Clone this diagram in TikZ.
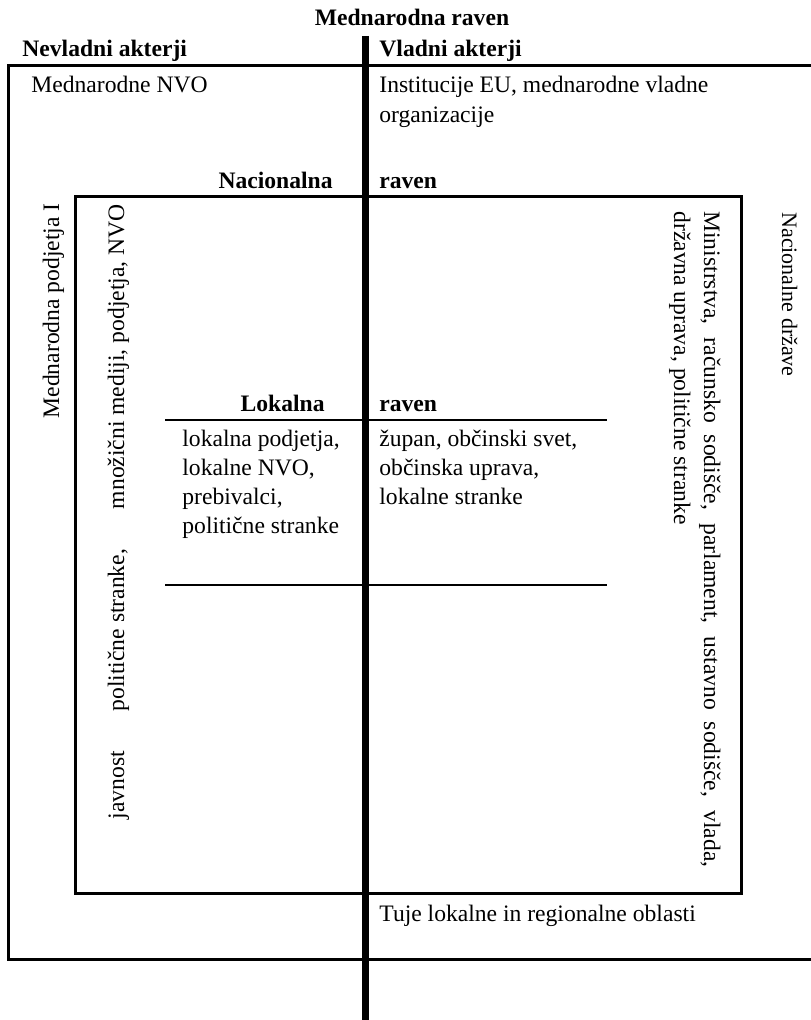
\documentclass[tikz,border=0pt]{standalone}
\usepackage{fontspec}
\setmainfont{Liberation Serif}
\begin{document}
\begin{tikzpicture}[x=0.5pt,y=-0.5pt,
  txt/.style={inner sep=0pt, font=\fontsize{11.8}{14.4}\selectfont},
  hd/.style={inner sep=0pt, font=\fontsize{11.8}{14.4}\selectfont\bfseries},
  frame/.style={line width=1.5pt},
  rule/.style={line width=1.1pt},
  axis/.style={line width=3.5pt}]
\useasboundingbox (0,0) rectangle (810,1020);

% dividing axis between non-governmental and governmental actors
\coordinate (axtop) at (365,36);
\coordinate (axbot) at (365,1020);
\draw[axis] (axtop) -- (axbot);

% international level
\node[hd, anchor=base] (mr) at (412,26) {Mednarodna raven};
\node[hd, anchor=base west] (nev) at (22,57) {Nevladni akterji};
\node[hd, anchor=base west] (vla) at (379,57) {Vladni akterji};
\coordinate (o1) at (815,66);
\coordinate (o2) at (8,66);
\coordinate (o3) at (8,959);
\coordinate (o4) at (815,959);
\draw[frame] (o1) -- (o2) -- (o3) -- (o4);
\node[txt, anchor=base west] (mnvo) at (31,93) {Mednarodne NVO};
\node[txt, anchor=base west] (ieu1) at (379,93) {Institucije EU, mednarodne vladne};
\node[txt, anchor=base west] (ieu2) at (379,123) {organizacije};
\node[txt, anchor=base west] (tuje) at (379,921) {Tuje lokalne in regionalne oblasti};
\node[txt, rotate=90, anchor=base east] (mpod) at (59,203) {Mednarodna podjetja I};
\node[txt, rotate=-90, anchor=base west, font=\fontsize{11}{13.2}\selectfont] (nacd) at (782,212) {Nacionalne države};

% national level
\node[hd, anchor=base east] (nac) at (333,189) {Nacionalna};
\node[hd, anchor=base west] (nacr) at (379,189) {raven};
\coordinate (n1) at (75,197);
\coordinate (n2) at (741,893);
\draw[frame] (n1) rectangle (n2);
\node[txt, rotate=90, anchor=base east] (jav) at (124,204)
  {\hbox to 307.5pt{javnost\hfill politične stranke,\hfill množični mediji, podjetja, NVO}};
\node[txt, rotate=-90, anchor=base west] (min1) at (704,211)
  {\makebox[328pt][s]{Ministrstva, računsko sodišče, parlament, ustavno sodišče, vlada,}};
\node[txt, rotate=-90, anchor=base west] (min2) at (674,211) {državna uprava, politične stranke};

% local level
\node[hd, anchor=base east] (lok) at (325,412) {Lokalna};
\node[hd, anchor=base west] (lokr) at (379,412) {raven};
\coordinate (l1) at (165,420);
\coordinate (l2) at (607,420);
\coordinate (l3) at (165,585);
\coordinate (l4) at (607,585);
\draw[rule] (l1) -- (l2);
\draw[rule] (l3) -- (l4);
\node[txt, anchor=base west] (lp1) at (182,446) {lokalna podjetja,};
\node[txt, anchor=base west] (lp2) at (182,475) {lokalne NVO,};
\node[txt, anchor=base west] (lp3) at (182,504) {prebivalci,};
\node[txt, anchor=base west] (lp4) at (182,533) {politične stranke};
\node[txt, anchor=base west] (lv1) at (379,446) {župan, občinski svet,};
\node[txt, anchor=base west] (lv2) at (379,475) {občinska uprava,};
\node[txt, anchor=base west] (lv3) at (379,504) {lokalne stranke};
\end{tikzpicture}
\end{document}
